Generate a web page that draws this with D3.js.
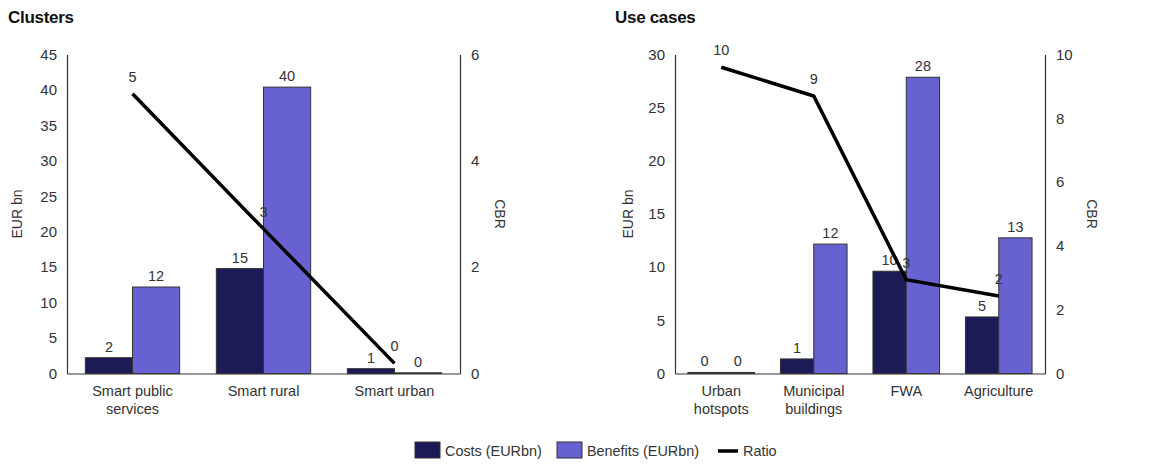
<!DOCTYPE html>
<html>
<head>
<meta charset="utf-8">
<script src="https://cdn.jsdelivr.net/npm/d3@7"></script>
<style>
  html, body { margin: 0; padding: 0; background: #fff; }
  svg { display: block; font-family: "Liberation Sans", Arial, sans-serif; }
</style>
</head>
<body>
<svg id="chart" width="1167" height="464"></svg>
<script>
// Clusters panel
const clusterCats = [["Smart public", "services"], ["Smart rural"], ["Smart urban"]];
const clusterCosts = [2.23, 14.8, 0.68];
const clusterBenefits = [12.2, 40.4, 0.1];
const clusterRatio = [5.26, 2.72, 0.19];
const clusterLeftTicks = [0, 5, 10, 15, 20, 25, 30, 35, 40, 45];
const clusterRightTicks = [0, 2, 4, 6];

// Use cases panel
const useCats = [["Urban", "hotspots"], ["Municipal", "buildings"], ["FWA"], ["Agriculture"]];
const useCosts = [0.1, 1.37, 9.62, 5.32];
const useBenefits = [0.1, 12.17, 27.86, 12.76];
const useRatio = [9.6, 8.7, 2.94, 2.43];
const useLeftTicks = [0, 5, 10, 15, 20, 25, 30];
const useRightTicks = [0, 2, 4, 6, 8, 10];

const seriesNames = ["Costs (EURbn)", "Benefits (EURbn)", "Ratio"];

const COST = "#1c1a57";
const BENEFIT = "#6761d2";
const INK = "#333";
const fmt = d3.format(".0f");
const tickFmt = d3.format("d");

const svg = d3.select("#chart");

function panel(opt) {
  const g = svg.append("g");
  const cats = opt.cats.map(c => c.join(" "));
  const x = d3.scaleBand().domain(cats).range([opt.x0, opt.x1])
    .paddingInner(0.28).paddingOuter(0.14);
  const sub = d3.scaleBand().domain(["c", "b"]).range([0, x.bandwidth()]);
  const yL = d3.scaleLinear().domain([0, d3.max(opt.leftTicks)]).range([opt.yBot, opt.yTop]);
  const yR = d3.scaleLinear().domain([0, d3.max(opt.rightTicks)]).range([opt.yBot, opt.yTop]);

  // title
  g.append("text").attr("x", opt.titleX).attr("y", 23)
    .attr("font-size", 17).attr("font-weight", "bold").attr("fill", "#111")
    .attr("letter-spacing", "-0.3").text(opt.title);

  // bars
  const rows = cats.map((c, i) => ({ cat: c, c: opt.costs[i], b: opt.benefits[i], r: opt.ratio[i] }));
  const bars = [];
  rows.forEach(r => {
    bars.push({ cat: r.cat, key: "c", v: r.c, color: COST });
    bars.push({ cat: r.cat, key: "b", v: r.b, color: BENEFIT });
  });
  g.selectAll("rect.bar").data(bars).join("rect")
    .attr("class", "bar")
    .attr("x", d => x(d.cat) + sub(d.key))
    .attr("width", sub.bandwidth())
    .attr("y", d => yL(d.v))
    .attr("height", d => yL(0) - yL(d.v))
    .attr("fill", d => d.color)
    .attr("stroke", INK).attr("stroke-width", 1);

  g.selectAll("text.blabel").data(bars).join("text")
    .attr("class", "blabel")
    .attr("x", d => x(d.cat) + sub(d.key) + sub.bandwidth() / 2)
    .attr("y", d => yL(d.v) - 6)
    .attr("text-anchor", "middle").attr("font-size", 14.5).attr("fill", INK)
    .text(d => fmt(d.v));

  // axes
  const axL = d3.axisLeft(yL).tickValues(opt.leftTicks).tickFormat(tickFmt).tickSize(0).tickPadding(10);
  const axR = d3.axisRight(yR).tickValues(opt.rightTicks).tickFormat(tickFmt).tickSize(0).tickPadding(11);
  const axB = d3.axisBottom(x).tickSize(0).tickFormat(() => "");
  const gl = g.append("g").attr("transform", `translate(${opt.x0},0)`).call(axL);
  const gr = g.append("g").attr("transform", `translate(${opt.x1},0)`).call(axR);
  const gb = g.append("g").attr("transform", `translate(0,${opt.yBot})`).call(axB);
  [gl, gr, gb].forEach(a => {
    a.select(".domain").attr("stroke", INK).attr("stroke-width", 1.2);
    a.selectAll("text").attr("font-size", 15).attr("fill", INK)
      .attr("font-family", "Liberation Sans, Arial, sans-serif");
  });

  // category labels
  const cl = g.selectAll("text.cat").data(opt.cats).join("text")
    .attr("class", "cat")
    .attr("text-anchor", "middle").attr("font-size", 14.5).attr("fill", INK)
    .attr("transform", (d, i) => `translate(${x(cats[i]) + x.bandwidth() / 2},${opt.yBot + 22})`);
  cl.selectAll("tspan").data(d => d).join("tspan")
    .attr("x", 0).attr("dy", (d, i) => i === 0 ? 0 : 18).text(d => d);

  // axis titles
  g.append("text")
    .attr("transform", `translate(${opt.x0 - opt.leftTitleGap},${(opt.yTop + opt.yBot) / 2}) rotate(-90)`)
    .attr("text-anchor", "middle").attr("dy", "0.35em")
    .attr("font-size", 14).attr("fill", INK).text("EUR bn");
  g.append("text")
    .attr("transform", `translate(${opt.x1 + opt.rightTitleGap},${(opt.yTop + opt.yBot) / 2}) rotate(90)`)
    .attr("text-anchor", "middle").attr("dy", "0.35em")
    .attr("font-size", 14).attr("fill", INK).text("CBR");

  // ratio line
  const line = d3.line().x(d => x(d.cat) + x.bandwidth() / 2).y(d => yR(d.r));
  g.append("path").datum(rows).attr("d", line)
    .attr("fill", "none").attr("stroke", "#000").attr("stroke-width", 3.5)
    .attr("stroke-linejoin", "miter");
  g.selectAll("text.rlabel").data(rows).join("text")
    .attr("class", "rlabel")
    .attr("x", d => x(d.cat) + x.bandwidth() / 2)
    .attr("y", d => yR(d.r) - 12)
    .attr("text-anchor", "middle").attr("font-size", 14.5).attr("fill", INK)
    .text(d => fmt(d.r));
}

panel({
  title: "Clusters", titleX: 8,
  cats: clusterCats, costs: clusterCosts, benefits: clusterBenefits, ratio: clusterRatio,
  leftTicks: clusterLeftTicks, rightTicks: clusterRightTicks,
  x0: 67, x1: 460, yTop: 54.5, yBot: 373.5, leftTitleGap: 50, rightTitleGap: 40
});

panel({
  title: "Use cases", titleX: 615,
  cats: useCats, costs: useCosts, benefits: useBenefits, ratio: useRatio,
  leftTicks: useLeftTicks, rightTicks: useRightTicks,
  x0: 675, x1: 1045, yTop: 54.5, yBot: 373.5, leftTitleGap: 47, rightTitleGap: 47
});

// legend
const legend = svg.append("g").attr("font-size", 14.4).attr("fill", INK);
const legItems = [
  { name: seriesNames[0], type: "rect", color: COST, x: 415, tx: 445 },
  { name: seriesNames[1], type: "rect", color: BENEFIT, x: 557, tx: 587 },
  { name: seriesNames[2], type: "line", color: "#000", x: 718, tx: 743 }
];
legItems.forEach(it => {
  if (it.type === "rect") {
    legend.append("rect").attr("x", it.x).attr("y", 442).attr("width", 25).attr("height", 16)
      .attr("fill", it.color).attr("stroke", INK).attr("stroke-width", 1);
  } else {
    legend.append("line").attr("x1", it.x).attr("x2", it.x + 20).attr("y1", 451).attr("y2", 451)
      .attr("stroke", it.color).attr("stroke-width", 3.5);
  }
  legend.append("text").attr("x", it.tx).attr("y", 456).attr("fill", INK).text(it.name);
});
</script>
</body>
</html>
